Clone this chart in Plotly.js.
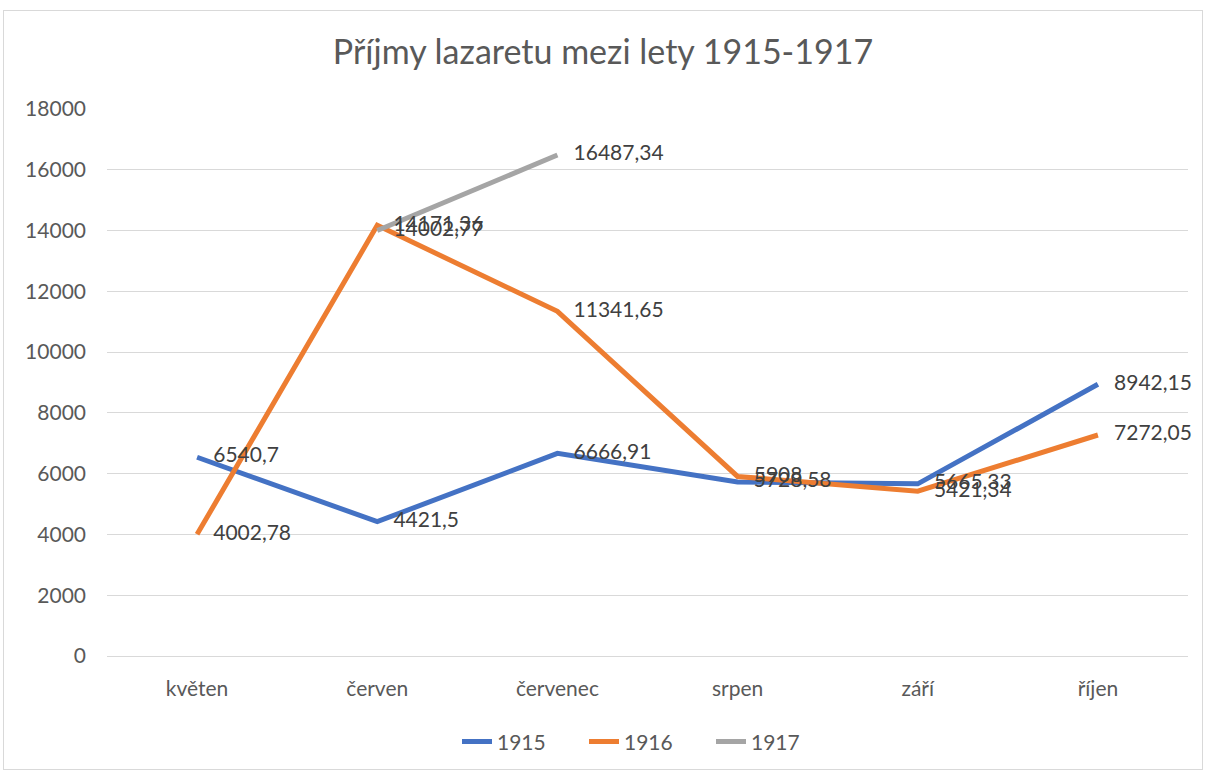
<!DOCTYPE html>
<html><head><meta charset="utf-8">
<script src="https://cdn.plot.ly/plotly-3.0.1.min.js"></script>
<style>
html,body{margin:0;padding:0;background:#fff;}
#frame{position:absolute;left:3px;top:10px;width:1198px;height:758px;border:1px solid #d9d9d9;}
#chart{position:absolute;left:0;top:0;width:1206px;height:773px;}
</style></head><body>
<div id="frame"></div>
<div id="chart"></div>
<script>
const months = ["květen","červen","červenec","srpen","září","říjen"];
const y1915 = [6540.7, 4421.5, 6666.91, 5728.58, 5665.33, 8942.15];
const y1916 = [4002.78, 14171.36, 11341.65, 5908, 5421.34, 7272.05];
const y1917 = [null, 14002.77, 16487.34, null, null, null];
const yTicks = [0,2000,4000,6000,8000,10000,12000,14000,16000,18000];

const pad = "\u00a0\u00a0\u00a0";
const fmt = a => a.map(v => v == null ? "" : pad + String(v).replace(".", ","));
const font = "Lato, 'Open Sans', sans-serif";

function line(name, y, color){
  return {x: months, y: y, name: name, type: "scatter", mode: "lines",
    line: {color: color, width: 5}, connectgaps: false};
}
function labels(name, y){
  return {x: months, y: y, name: name, type: "scatter", mode: "text", showlegend: false,
    text: fmt(y), textposition: "middle right",
    textfont: {family: font, size: 21, color: "#404040"}, cliponaxis: false};
}
const data = [
  line("1915", y1915, "#4472c4"), line("1916", y1916, "#ed7d31"), line("1917", y1917, "#a5a5a5"),
  labels("1915", y1915), labels("1916", y1916), labels("1917", y1917)
];

const layout = {
  width: 1206, height: 773,
  paper_bgcolor: "rgba(0,0,0,0)", plot_bgcolor: "rgba(0,0,0,0)",
  margin: {l: 107, r: 18, t: 109, b: 116},
  font: {family: font, color: "#595959"},
  title: {text: "Příjmy lazaretu mezi lety 1915-1917", x: 0.5, xanchor: "center", y: 0.932, yanchor: "middle",
    font: {family: font, size: 34, color: "#595959"}},
  showlegend: true,
  legend: {orientation: "h", x: 0.5, xanchor: "center", y: -0.155, yanchor: "middle",
    font: {family: font, size: 21, color: "#595959"}, entrywidth: 82, traceorder: "normal"},
  xaxis: {type: "category", showgrid: false, showline: true, linecolor: "#d9d9d9", linewidth: 1,
    ticks: "", tickfont: {family: font, size: 21, color: "#595959"}, ticklabelstandoff: 14,
    range: [-0.5, 5.5], fixedrange: true},
  yaxis: {range: [0, 18000], tickvals: yTicks, ticktext: yTicks.map(String),
    showgrid: true, gridcolor: "#d9d9d9", gridwidth: 1, zeroline: false, showline: false,
    ticks: "", tickfont: {family: font, size: 21, color: "#595959"}, ticklabelstandoff: 20}
};
Plotly.newPlot("chart", data, layout, {displayModeBar: false, staticPlot: true});
</script></body></html>
